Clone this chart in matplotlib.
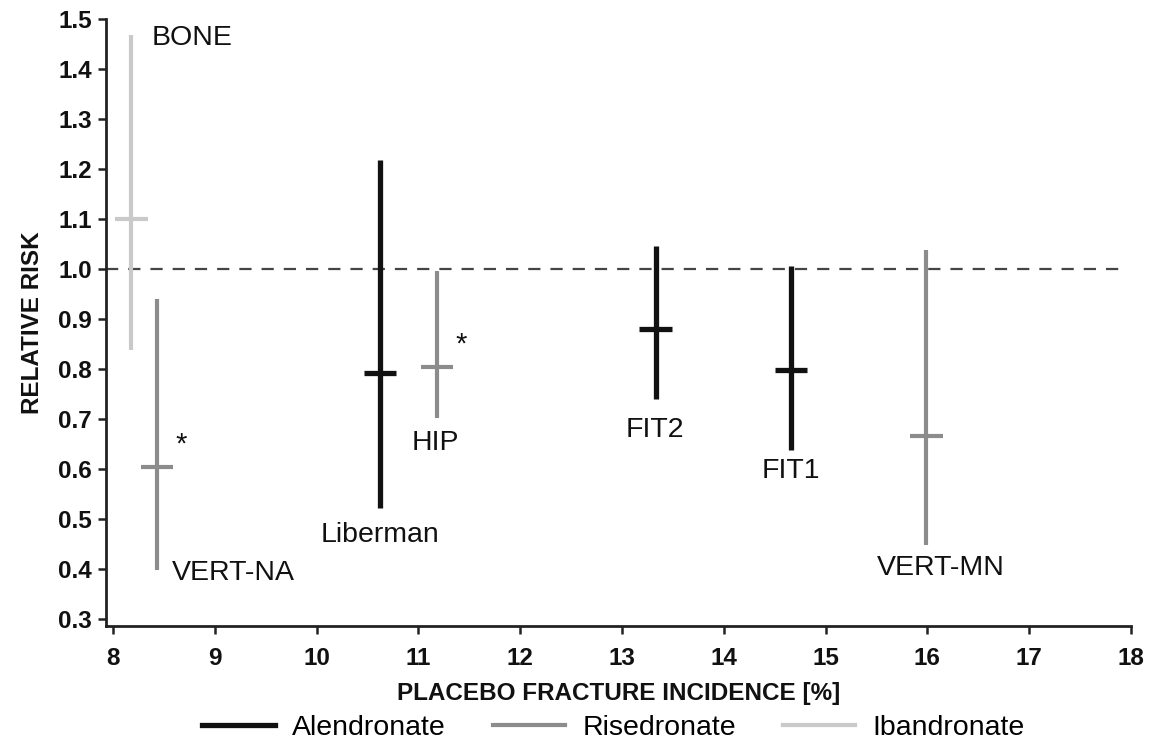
import matplotlib
matplotlib.use("Agg")
import matplotlib.pyplot as plt
from matplotlib.lines import Line2D

# ---- data ----
studies = ["BONE", "VERT-NA", "Liberman", "HIP", "FIT2", "FIT1", "VERT-MN"]
drugs = ["Ibandronate", "Risedronate", "Alendronate", "Risedronate",
         "Alendronate", "Alendronate", "Risedronate"]
placebo_incidence = [8.18, 8.43, 10.62, 11.18, 13.33, 14.66, 15.99]
rr_point = [1.10, 0.603, 0.792, 0.803, 0.880, 0.798, 0.666]
rr_low = [0.838, 0.397, 0.522, 0.702, 0.740, 0.638, 0.448]
rr_high = [1.468, 0.940, 1.217, 0.996, 1.046, 1.006, 1.038]
significant = [False, True, False, True, False, False, False]

drug_order = ["Alendronate", "Risedronate", "Ibandronate"]
drug_colors = {"Alendronate": "#111111", "Risedronate": "#8c8c8c", "Ibandronate": "#c9c9c9"}
drug_lw = {"Alendronate": 3.8, "Risedronate": 3.0, "Ibandronate": 3.0}

# label anchor positions (x, y, ha)
label_pos = {
    "BONE": (8.383, 1.462, "left"),
    "VERT-NA": (8.58, 0.392, "left"),
    "Liberman": (10.62, 0.468, "center"),
    "HIP": (11.17, 0.652, "center"),
    "FIT2": (13.325, 0.678, "center"),
    "FIT1": (14.66, 0.596, "center"),
    "VERT-MN": (16.13, 0.402, "center"),
}

fig = plt.figure(figsize=(11.51, 7.44), dpi=100)
ax = fig.add_axes([0.0921, 0.1586, 0.8905, 0.8159])

narrow = ["Liberation Sans Narrow", "Liberation Sans", "DejaVu Sans"]
regular = ["Liberation Sans", "DejaVu Sans"]

ax.axhline(1.0, color="#444444", lw=1.6, ls=(0, (5.5, 4.5)), zorder=1, xmax=0.994)

cap_half = 0.16
for name, drug, x, p, lo, hi, sig in zip(studies, drugs, placebo_incidence,
                                          rr_point, rr_low, rr_high, significant):
    c = drug_colors[drug]
    lw = drug_lw[drug]
    ax.vlines(x, lo, hi, color=c, lw=lw, zorder=2)
    ax.hlines(p, x - cap_half, x + cap_half, color=c, lw=lw, zorder=2)
    lx, ly, ha = label_pos[name]
    ax.text(lx, ly, name, ha=ha, va="center", fontsize=20.5, family=regular, color="#111111")
    if sig:
        ax.text(x + 0.235, p + 0.045, "*", ha="center", va="center",
                fontsize=21, family=regular, color="#111111")

ax.set_xlim(7.93, 18)
ax.set_ylim(0.286, 1.5)
ax.set_xticks(range(8, 19))
ax.set_yticks([0.3 + 0.1 * i for i in range(13)])
ax.set_yticklabels([f"{0.3 + 0.1 * i:.1f}" for i in range(13)])

for s in ["top", "right"]:
    ax.spines[s].set_visible(False)
for s in ["left", "bottom"]:
    ax.spines[s].set_linewidth(2)
    ax.spines[s].set_color("#222222")
ax.tick_params(direction="out", length=6, width=1.8, color="#222222", pad=4)
ax.tick_params(axis="x", pad=9)
for lab in ax.get_xticklabels() + ax.get_yticklabels():
    lab.set_fontfamily(narrow)
    lab.set_fontweight("bold")
    lab.set_fontsize(17.5)
    lab.set_color("#111111")

ax.set_xlabel("PLACEBO FRACTURE INCIDENCE [%]", fontsize=17.5, fontweight="bold",
              family=narrow, labelpad=9, color="#111111")
ax.set_ylabel("RELATIVE RISK", fontsize=17.5, fontweight="bold",
              family=narrow, labelpad=10, color="#111111")

handles = [Line2D([0], [0], color=drug_colors[d], lw=drug_lw[d]) for d in drug_order]
fig.legend(handles, drug_order, loc="center", bbox_to_anchor=(0.533, 0.022), ncol=3,
           frameon=False, handlelength=2.55, handletextpad=0.6, columnspacing=1.65,
           borderpad=0.2, prop={"family": narrow, "size": 20.5})

fig.savefig("out.png", dpi=100)
